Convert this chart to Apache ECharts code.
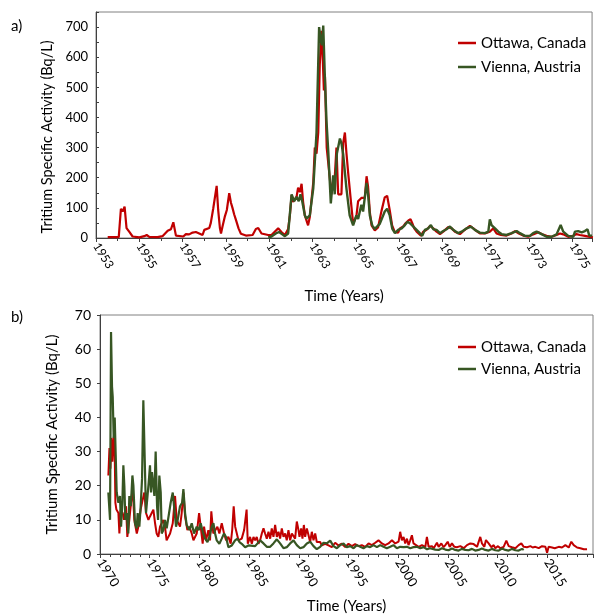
<!DOCTYPE html>
<html style="height: 100%">
<head>
<meta charset="utf-8">
<title>Tritium</title>
<script src="https://cdn.jsdelivr.net/npm/echarts@6/dist/echarts.min.js"></script>
</head>
<body style="height: 100%; margin: 0; background: #fff">
<div id="container" style="width: 594px; height: 616px"></div>
<script>
// series names
var names = ['Ottawa, Canada', 'Vienna, Austria'];

// panel a) [year, Bq/L]
var ottawaA = [
  [1953.54,3],[1954.05,3],[1954.15,97],[1954.23,88],[1954.32,104],[1954.41,33],[1954.54,20],[1954.69,5],
  [1955.0,2],[1955.23,6],[1955.34,10],[1955.46,4],[1955.84,3],[1956.07,6],[1956.31,24],[1956.46,29],
  [1956.57,52],[1956.69,8],[1957.03,5],[1957.15,13],[1957.3,12],[1957.46,18],[1957.61,20],[1957.92,10],
  [1958.0,27],[1958.23,33],[1958.3,50],[1958.41,97],[1958.46,100],[1958.57,173],[1958.64,93],[1958.72,33],
  [1958.77,15],[1958.84,38],[1958.95,72],[1959.04,93],[1959.15,149],[1959.23,117],[1959.3,100],[1959.38,78],
  [1959.46,60],[1959.58,32],[1959.69,14],[1959.92,8],[1960.23,10],[1960.38,30],[1960.49,33],[1960.64,15],
  [1960.95,10],[1961.1,10],[1961.41,32],[1961.56,20],[1961.72,10],[1961.87,30],[1961.95,75],[1962.03,142],
  [1962.1,120],[1962.26,137],[1962.33,167],[1962.41,152],[1962.49,180],[1962.56,120],[1962.64,75],[1962.79,42],
  [1962.87,70],[1963.03,185],[1963.1,300],[1963.18,280],[1963.26,350],[1963.33,575],[1963.41,688],[1963.47,590],
  [1963.52,490],[1963.57,535],[1963.65,300],[1963.79,200],[1963.87,145],[1963.95,190],[1964.02,200],[1964.1,300],
  [1964.18,145],[1964.33,145],[1964.41,315],[1964.49,350],[1964.56,283],[1964.64,217],[1964.79,105],[1964.87,48],
  [1964.95,42],[1965.02,72],[1965.1,122],[1965.25,133],[1965.41,133],[1965.49,205],[1965.56,170],[1965.64,87],
  [1965.72,42],[1965.87,25],[1966.02,35],[1966.18,90],[1966.33,135],[1966.44,140],[1966.56,92],[1966.67,42],
  [1966.79,20],[1966.95,18],[1967.03,32],[1967.18,38],[1967.29,49],[1967.42,58],[1967.52,62],[1967.6,49],
  [1967.69,32],[1967.8,21],[1968.0,8],[1968.11,21],[1968.26,27],[1968.42,40],[1968.57,32],[1968.72,21],
  [1968.88,13],[1969.03,21],[1969.26,36],[1969.42,32],[1969.57,21],[1969.8,13],[1969.95,23],[1970.26,40],
  [1970.42,32],[1970.57,23],[1970.72,15],[1970.95,15],[1971.18,21],[1971.34,32],[1971.49,15],[1971.69,10],
  [1971.95,8],[1972.18,15],[1972.34,23],[1972.52,15],[1972.72,8],[1972.95,4],[1973.18,12],[1973.42,19],
  [1973.57,13],[1973.8,7],[1974.03,4],[1974.26,10],[1974.42,15],[1974.57,12],[1974.8,4],[1975.03,7],
  [1975.18,13],[1975.34,10],[1975.57,7],[1975.8,4],[1975.94,2]
];
var viennaA = [
  [1960.95,2],[1961.1,5],[1961.3,15],[1961.45,20],[1961.6,12],[1961.72,6],[1961.87,15],[1962.03,145],
  [1962.15,122],[1962.26,137],[1962.36,122],[1962.44,145],[1962.52,122],[1962.64,75],[1962.72,64],[1962.87,75],
  [1963.03,165],[1963.18,350],[1963.3,700],[1963.38,655],[1963.43,640],[1963.49,705],[1963.56,545],[1963.64,388],
  [1963.72,290],[1963.84,115],[1963.95,208],[1964.02,145],[1964.12,280],[1964.26,330],[1964.33,315],[1964.41,278],
  [1964.56,165],[1964.71,75],[1964.87,42],[1965.02,75],[1965.1,63],[1965.25,110],[1965.33,88],[1965.49,183],
  [1965.56,145],[1965.64,75],[1965.75,42],[1965.87,30],[1966.1,47],[1966.33,88],[1966.44,97],[1966.56,75],
  [1966.68,30],[1966.8,16],[1966.95,27],[1967.11,32],[1967.26,43],[1967.38,54],[1967.49,49],[1967.65,38],
  [1967.8,27],[1967.95,16],[1968.06,7],[1968.18,27],[1968.34,32],[1968.46,43],[1968.57,29],[1968.72,27],
  [1968.88,16],[1969.03,23],[1969.18,29],[1969.34,38],[1969.49,27],[1969.72,16],[1969.88,21],[1970.11,32],
  [1970.31,38],[1970.49,27],[1970.72,18],[1970.95,16],[1971.11,21],[1971.18,62],[1971.26,43],[1971.34,49],
  [1971.42,32],[1971.57,21],[1971.72,13],[1971.95,10],[1972.18,16],[1972.42,23],[1972.57,16],[1972.8,7],
  [1973.03,7],[1973.18,16],[1973.34,21],[1973.57,13],[1973.8,4],[1974.03,4],[1974.26,12],[1974.45,43],
  [1974.57,21],[1974.8,7],[1975.03,4],[1975.11,21],[1975.26,23],[1975.42,19],[1975.57,23],[1975.69,29],
  [1975.77,8],[1975.9,8]
];

// panel b) [year, Bq/L]
var ottawaB = [
  [1970.84,23],[1970.95,31],[1971.05,25],[1971.15,34],[1971.25,27],[1971.35,33],[1971.45,36],[1971.55,15],
  [1971.65,13],[1971.85,12],[1971.95,6],[1972.08,13],[1972.28,12],[1972.42,10],[1972.62,14],[1972.75,5],
  [1972.95,10],[1973.19,17],[1973.3,19],[1973.45,10],[1973.7,6],[1973.86,8],[1974.09,13],[1974.3,16],
  [1974.46,18],[1974.63,12],[1974.87,10],[1975.03,11],[1975.2,12],[1975.37,13],[1975.54,9],[1975.7,6],
  [1975.87,5],[1976.04,8],[1976.2,9],[1976.38,10],[1976.54,8],[1976.7,4],[1977.05,6],[1977.32,9],
  [1977.55,17],[1977.72,10],[1978.05,8],[1978.22,12],[1978.4,18],[1978.56,11],[1978.79,7],[1978.99,8],
  [1979.23,6],[1979.4,4],[1979.73,6],[1979.97,12],[1980.13,8],[1980.33,3],[1980.47,8],[1980.67,4],
  [1980.9,7],[1981.07,4],[1981.2,12.5],[1981.4,6],[1981.58,6],[1981.81,8],[1982.01,6],[1982.25,9],
  [1982.48,6],[1982.68,4],[1982.92,5],[1983.15,3],[1983.3,7],[1983.45,14],[1983.6,8],[1983.93,4],
  [1984.26,4.5],[1984.5,7],[1984.75,13],[1984.87,3],[1985.1,5],[1985.27,3],[1985.44,5],[1985.61,4],
  [1985.77,5],[1985.94,3],[1986.11,4],[1986.28,6],[1986.45,7.5],[1986.61,6],[1986.78,4.5],[1986.95,6.5],
  [1987.12,4.5],[1987.28,7.5],[1987.45,5],[1987.62,8.5],[1987.79,5],[1987.96,6.5],[1988.12,4.5],[1988.29,7.5],
  [1988.46,5],[1988.63,6],[1988.79,4],[1988.96,7],[1989.13,4],[1989.3,6],[1989.47,6.5],[1989.63,4.5],
  [1989.8,9.5],[1989.97,7],[1990.07,5],[1990.24,7.5],[1990.37,4.5],[1990.51,8.5],[1990.64,5],[1990.81,7.5],
  [1990.98,5.5],[1991.14,3.5],[1991.31,6.5],[1991.48,4],[1991.65,6],[1991.81,3.5],[1991.98,3],[1992.15,3.5],
  [1992.32,2.5],[1992.65,3],[1992.99,2.5],[1993.32,2],[1993.66,3.3],[1993.99,2.5],[1994.33,3],[1994.67,2],
  [1995.0,3],[1995.34,2.3],[1995.67,2.9],[1996.01,2.3],[1996.34,2.6],[1996.68,2.1],[1997.02,3.1],[1997.35,2.6],
  [1997.69,3.3],[1998.02,4],[1998.36,3.1],[1998.69,2.6],[1999.03,3.1],[1999.37,4],[1999.7,3.1],[2000.04,3.6],
  [2000.2,6.5],[2000.37,4],[2000.54,5],[2000.71,3.1],[2000.88,4.5],[2001.04,2.6],[2001.21,4],[2001.38,5.5],
  [2001.54,3.1],[2001.72,3.1],[2002.06,2.1],[2002.39,2.6],[2002.73,2.1],[2002.89,5],[2003.06,2.1],[2003.4,2.3],
  [2003.57,1.7],[2003.9,3.3],[2004.07,2.1],[2004.34,3.1],[2004.57,2],[2004.74,2.6],[2004.98,3.6],[2005.18,2.1],
  [2005.41,3.1],[2005.65,2.1],[2005.91,2],[2006.25,2.3],[2006.59,1.7],[2006.92,2.6],[2007.26,3.1],[2007.59,2.9],
  [2007.93,2.1],[2008.26,5],[2008.43,3.1],[2008.67,2.1],[2008.83,4.1],[2009.1,3.1],[2009.37,2],[2009.61,2.6],
  [2009.77,1.7],[2010.04,2.3],[2010.28,1.7],[2010.61,2.1],[2010.88,3.9],[2011.12,2.3],[2011.45,2],[2011.79,1.7],
  [2012.12,2.6],[2012.39,3.1],[2012.63,2.1],[2012.96,2],[2013.3,2.3],[2013.53,1.9],[2013.8,2.1],[2014.14,1.7],
  [2014.47,2.3],[2014.81,2.1],[2014.98,0.4],[2015.14,2.1],[2015.48,1.9],[2015.75,1.7],[2016.15,2.1],[2016.48,1.9],
  [2016.82,2.6],[2017.16,1.9],[2017.42,3.6],[2017.66,2.6],[2018.0,1.9],[2018.33,1.7],[2018.67,1.4],[2019.0,1.4]
];
var viennaB = [
  [1970.84,18],[1971.01,10],[1971.11,65],[1971.21,49],[1971.28,46],[1971.38,34],[1971.48,40],[1971.58,29],
  [1971.68,18],[1971.85,15],[1972.01,17],[1972.12,8],[1972.25,15],[1972.35,26],[1972.45,20],[1972.55,10],
  [1972.68,12],[1972.85,6],[1972.95,17],[1973.1,14],[1973.26,23],[1973.36,20],[1973.52,9],[1973.69,7.5],
  [1973.79,12],[1973.96,8],[1974.09,14],[1974.23,22],[1974.36,45],[1974.53,24],[1974.63,12],[1974.8,12],
  [1974.9,21],[1975.03,26],[1975.13,18],[1975.23,24],[1975.37,20],[1975.47,17],[1975.6,30],[1975.74,14],
  [1975.84,10],[1975.97,23],[1976.11,18],[1976.21,6],[1976.38,7],[1976.54,10],[1976.71,7.5],[1976.95,12],
  [1977.11,15],[1977.32,18],[1977.45,14],[1977.65,8],[1977.82,10],[1978.05,14],[1978.26,15],[1978.39,19],
  [1978.56,12],[1978.72,8.5],[1978.99,7],[1979.23,9],[1979.46,6],[1979.73,8],[1979.93,7],[1980.13,9],
  [1980.34,6.5],[1980.57,4.5],[1980.81,3.5],[1981.01,5],[1981.24,8],[1981.41,9],[1981.58,6],[1981.74,4],
  [1982.01,3],[1982.25,4.5],[1982.48,6],[1982.68,5],[1982.92,2],[1983.26,2.5],[1983.59,4],[1983.83,4.5],
  [1984.03,3.5],[1984.26,3],[1984.6,2],[1984.93,2.5],[1985.1,2.1],[1985.61,2.3],[1986.11,4],[1986.45,3.1],
  [1986.78,2.1],[1987.12,2.1],[1987.45,3.1],[1987.79,4.3],[1988.12,3.1],[1988.46,1.7],[1988.79,2],[1989.13,3.1],
  [1989.47,4],[1989.8,2.6],[1990.14,1.7],[1990.47,2],[1990.81,3.1],[1991.14,3.6],[1991.48,2.3],[1991.81,1.4],
  [1992.15,2.1],[1992.49,3.3],[1992.82,3.1],[1993.16,3.9],[1993.49,2.3],[1993.83,1.7],[1994.16,2.6],[1994.5,3.1],
  [1994.83,2],[1995.17,2.3],[1995.51,1.7],[1995.84,2.6],[1996.18,2.1],[1996.51,1.7],[1996.85,2.3],[1997.18,2],
  [1997.52,2.6],[1997.86,2],[1998.19,2.6],[1998.53,2.1],[1998.86,1.7],[1999.2,2.1],[1999.53,2.6],[1999.87,1.7],
  [2000.2,2.1],[2000.54,2],[2000.88,2.1],[2001.21,1.7],[2001.54,2],[2001.88,2.1],[2002.22,1.7],[2002.55,2],
  [2002.9,1.4],[2003.2,1.7],[2003.4,1.9],[2003.73,1.3],[2004.07,1.2],[2004.4,1.7],[2004.74,1.3],[2005.07,1.1],
  [2005.41,1.6],[2005.74,1.2],[2006.08,1.0],[2006.41,1.5],[2006.75,1.2],[2007.08,1.1],[2007.42,1.5],[2007.75,1.0],
  [2008.09,1.2],[2008.42,1.6],[2008.76,1.2],[2009.1,1.0],[2009.43,1.5],[2009.77,1.1],[2010.11,1.0],[2010.44,1.6],
  [2010.78,1.2],[2011.11,1.0],[2011.45,1.5],[2011.79,1.1],[2012.12,1.0],[2012.46,1.5],[2012.63,1.2]
];

var red = '#c00000';
var green = '#375623';
var font = 'Lato';
var yTitle = 'Tritium Specific Activity (Bq/L)';
var xTitle = 'Time (Years)';

var dom = document.getElementById('container');
var myChart = echarts.init(dom, null, { renderer: 'canvas' });

function xAxisOf(gridIndex, min, max, interval, minorSplit, gap, fs) {
  return {
    type: 'value', gridIndex: gridIndex, min: min, max: max, interval: interval,
    name: xTitle, nameLocation: 'middle', nameGap: gap,
    nameTextStyle: { fontFamily: font, fontSize: 15, color: '#000' },
    axisLine: { onZero: false, lineStyle: { color: '#404040', width: 1 } },
    axisTick: { show: true, length: 4, lineStyle: { color: '#404040' } },
    minorTick: { show: true, splitNumber: minorSplit, length: 3, lineStyle: { color: '#404040' } },
    splitLine: { show: false },
    axisLabel: { rotate: -58, margin: 6, fontFamily: font, fontSize: fs, color: '#000',
      showMaxLabel: false, formatter: function (v) { return String(v); } }
  };
}

var option = {
  animation: false,
  backgroundColor: '#fff',
  textStyle: { fontFamily: font },
  grid: [
    { left: 96, top: 12, right: 1, height: 226, show: true, borderColor: '#808080', borderWidth: 1 },
    { left: 100, top: 315, right: 1, height: 239, show: true, borderColor: '#808080', borderWidth: 1 }
  ],
  xAxis: [
    xAxisOf(0, 1953, 1975.9, 2, 2, 51, 12),
    xAxisOf(1, 1970, 2019.6, 5, 5, 45, 13)
  ],
  yAxis: [
    {
      type: 'value', gridIndex: 0, min: 0, max: 750, interval: 50,
      name: yTitle, nameLocation: 'middle', nameGap: 39,
      nameTextStyle: { fontFamily: font, fontSize: 14.5, color: '#000', padding: [0, 24, 0, 0] },
      axisLine: { show: true, lineStyle: { color: '#404040' } },
      axisTick: { show: true, inside: true, length: 3, lineStyle: { color: '#404040' } },
      splitLine: { show: false },
      axisLabel: { margin: 8, fontFamily: font, fontSize: 13, color: '#000',
        formatter: function (v) { return v % 100 === 0 ? v : ''; } }
    },
    {
      type: 'value', gridIndex: 1, min: 0, max: 70, interval: 10,
      name: yTitle, nameLocation: 'middle', nameGap: 40,
      nameTextStyle: { fontFamily: font, fontSize: 15, color: '#000' },
      axisLine: { show: true, lineStyle: { color: '#404040' } },
      axisTick: { show: true, length: 3, lineStyle: { color: '#404040' } },
      splitLine: { show: false },
      axisLabel: { margin: 9, fontFamily: font, fontSize: 14, color: '#000' }
    }
  ],
  legend: [
    { data: names, orient: 'vertical', left: 453, top: 29, itemGap: 6, itemWidth: 18, itemHeight: 2.5,
      icon: 'rect', textStyle: { fontFamily: font, fontSize: 15, color: '#000', lineHeight: 18 } },
    { data: names, orient: 'vertical', left: 453, top: 333, itemGap: 4, itemWidth: 18, itemHeight: 2.5,
      icon: 'rect', textStyle: { fontFamily: font, fontSize: 15, color: '#000', lineHeight: 18 } }
  ],
  graphic: [
    { type: 'text', left: 11, top: 19, style: { text: 'a)', font: '15px ' + font, fill: '#000' } },
    { type: 'text', left: 11, top: 310, style: { text: 'b)', font: '15px ' + font, fill: '#000' } }
  ],
  series: [
    { name: names[0], type: 'line', xAxisIndex: 0, yAxisIndex: 0, data: ottawaA, symbol: 'none',
      color: red, lineStyle: { width: 2.2, color: red } },
    { name: names[1], type: 'line', xAxisIndex: 0, yAxisIndex: 0, data: viennaA, symbol: 'none',
      color: green, lineStyle: { width: 2.4, color: green } },
    { name: names[0], type: 'line', xAxisIndex: 1, yAxisIndex: 1, data: ottawaB, symbol: 'none',
      color: red, lineStyle: { width: 2, color: red } },
    { name: names[1], type: 'line', xAxisIndex: 1, yAxisIndex: 1, data: viennaB, symbol: 'none',
      color: green, lineStyle: { width: 2.2, color: green } }
  ]
};

myChart.setOption(option);
</script>
</body>
</html>
